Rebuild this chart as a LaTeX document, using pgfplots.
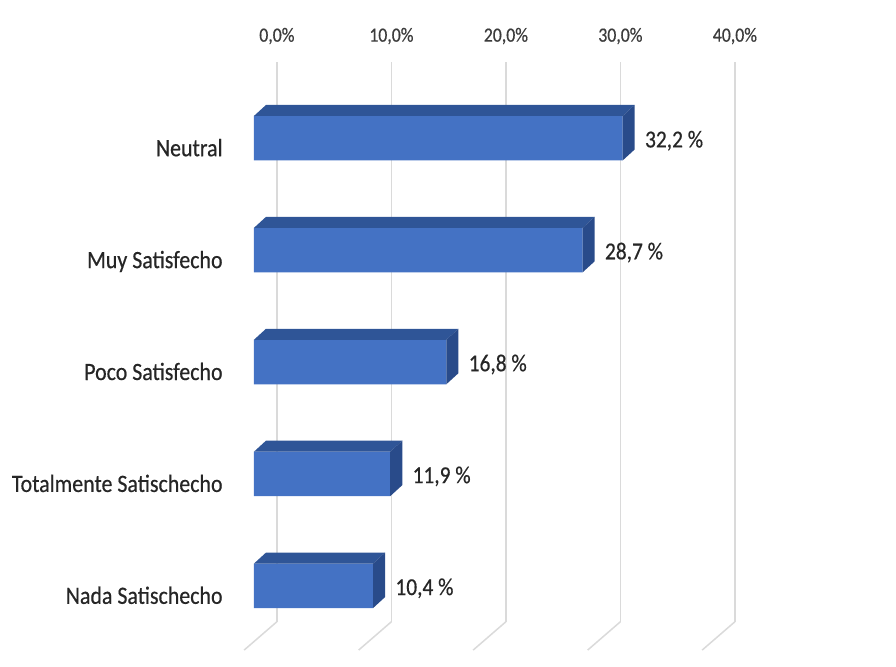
\documentclass[border=0pt]{standalone}
\usepackage{fontspec}
\setmainfont{Carlito}[FakeStretch=0.88,FakeBold=0.5]
\usepackage{pgfplots}
\usepackage{pgfplotstable}
\pgfplotsset{compat=1.18}
\definecolor{front}{HTML}{4472C4}
\definecolor{topf}{HTML}{2F5597}
\definecolor{side}{HTML}{294B8A}
\definecolor{gridc}{HTML}{DADADA}
\definecolor{txt}{HTML}{262626}
\pgfplotstableread{
y v
0 10.4
1 11.9
2 16.8
3 28.7
4 32.2
}\data
\begin{document}
\begin{tikzpicture}
\begin{axis}[
  x=5.725pt, y=55.95pt,
  xmin=-2.707, xmax=45, ymin=-0.321, ymax=4.684,
  enlargelimits=false,
  clip=false,
  axis x line*=top, axis y line*=left,
  axis line style={draw=none},
  major tick length=0pt,
  xtick={2,12,22,32,42},
  xticklabels={{0,0\%},{10,0\%},{20,0\%},{30,0\%},{40,0\%}},
  xmajorgrids,
  grid style={gridc, line width=0.75pt},
  ytick={0,1,2,3,4},
  yticklabels={Nada Satischecho, Totalmente Satischecho, Poco Satisfecho, Muy Satisfecho, Neutral},
  xticklabel style={font=\fontsize{10.1pt}{12pt}\selectfont, text=txt!90, anchor=base, inner sep=0pt, yshift=10pt},
  yticklabel style={font=\fontsize{12.45pt}{14pt}\selectfont, text=txt, anchor=base east, inner sep=0pt, yshift=-9pt},
]
% floor part of the gridlines
\addplot[gridc, line width=0.75pt, forget plot] coordinates {(2,-0.321) (-0.856,-0.574)};
\addplot[gridc, line width=0.75pt, forget plot] coordinates {(12,-0.321) (9.144,-0.574)};
\addplot[gridc, line width=0.75pt, forget plot] coordinates {(22,-0.321) (19.144,-0.574)};
\addplot[gridc, line width=0.75pt, forget plot] coordinates {(32,-0.321) (29.144,-0.574)};
\addplot[gridc, line width=0.75pt, forget plot] coordinates {(42,-0.321) (39.144,-0.574)};
% front faces
\addplot[xbar, bar width=22.25pt, bar shift=0pt, fill=front, draw=none,
  point meta=x,
  nodes near coords={\pgfmathprintnumber[assume math mode=true,use comma,fixed,fixed zerofill,precision=1]{\pgfplotspointmeta}~\%},
  nodes near coords style={anchor=base west, inner sep=0pt, xshift=11pt, yshift=-4.6pt, font=\fontsize{12.15pt}{14pt}\selectfont, text=txt}]
  table[x=v,y=y]{\data};
% top and side faces
\pgfplotsinvokeforeach{0,...,4}{
  \pgfplotstablegetelem{#1}{v}\of\data \let\bv\pgfplotsretval
  \pgfplotstablegetelem{#1}{y}\of\data \let\by\pgfplotsretval
  \pgfmathsetmacro\ya{\by+0.1988}
  \pgfmathsetmacro\yb{\by+0.1988+0.0983}
  \pgfmathsetmacro\yc{\by-0.1988}
  \pgfmathsetmacro\yd{\by-0.1988+0.0983}
  \pgfmathsetmacro\xe{\bv+1.05}
  \addplot[fill=topf, draw=none, forget plot] coordinates {(0,\ya) (\bv,\ya) (\xe,\yb) (1.05,\yb)} --cycle;
  \addplot[fill=side, draw=none, forget plot] coordinates {(\bv,\yc) (\bv,\ya) (\xe,\yb) (\xe,\yd)} --cycle;
}
\path (axis cs:-22.18,-0.7167) rectangle (axis cs:56.07,5.235);
\end{axis}
\end{tikzpicture}
\end{document}
